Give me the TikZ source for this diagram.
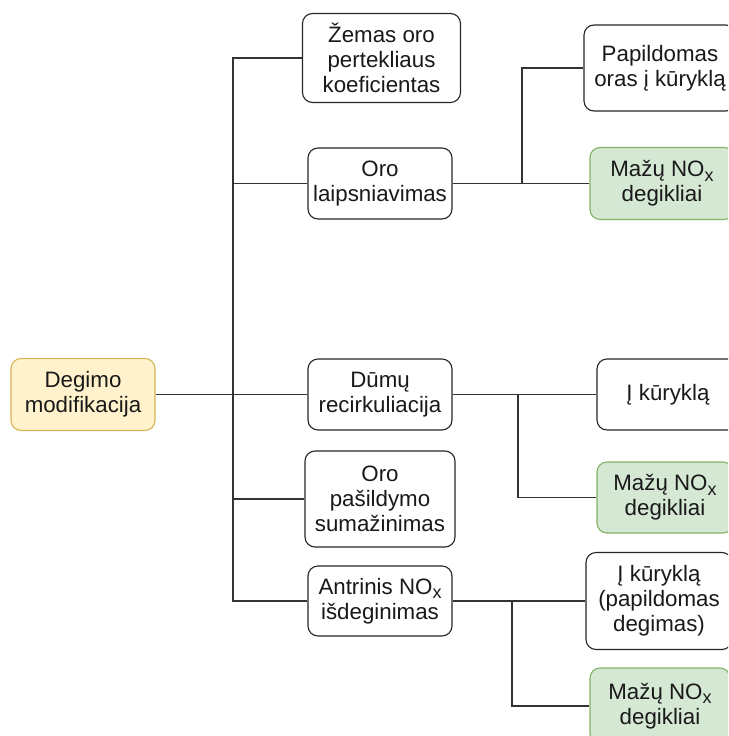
\documentclass[tikz,border=0pt]{standalone}
\usepackage{fontspec}
\setmainfont{Liberation Sans}
\definecolor{yfill}{HTML}{FFF2CC}
\definecolor{ydraw}{HTML}{D6B656}
\definecolor{gfill}{HTML}{D5E8D4}
\definecolor{gdraw}{HTML}{82B366}
\newcommand{\nox}{NO\raisebox{-0.35ex}{\fontsize{18}{18}\selectfont x}}
\begin{document}
\begin{tikzpicture}[x=1pt,y=-1pt,
  box/.style={draw=black!85, line width=1.1pt, rounded corners=10pt, fill=white,
    align=center, inner sep=0pt, text=black!90,
    font=\fontsize{22.3}{24.8}\selectfont},
  ybox/.style={box, draw=ydraw, fill=yfill},
  gbox/.style={box, draw=gdraw, fill=gfill},
  link/.style={draw=black!80, line width=1.2pt}]
\useasboundingbox (0,0) rectangle (728,736);
\fill[white] (0,0) rectangle (728,736);
\clip (0,0) rectangle (728,736);

\node[ybox, minimum width=144, minimum height=72] (root) at (83,394.5) {Degimo\\modifikacija};

\node[box, minimum width=158, minimum height=89] (zem) at (381.5,58) {Žemas oro\\pertekliaus\\koeficientas};
\node[box, minimum width=144, minimum height=71] (oro) at (380,183.5) {Oro\\laipsniavimas};
\node[box, minimum width=144, minimum height=71] (dum) at (380,394.5) {Dūmų\\recirkuliacija};
\node[box, minimum width=150, minimum height=96] (pas) at (380,499) {Oro\\pašildymo\\sumažinimas};
\node[box, minimum width=144, minimum height=70] (ant) at (380,601) {Antrinis \nox\\išdeginimas};

\node[box, minimum width=152, minimum height=86] (pap) at (660,68) {Papildomas\\oras į kūryklą};
\node[gbox, minimum width=144, minimum height=72] (gr1) at (662,183.5) {Mažų \nox\\degikliai};
\node[box, minimum width=142, minimum height=71] (ik) at (668,394.5) {Į kūryklą};
\node[gbox, minimum width=136, minimum height=71] (gr2) at (665,497.5) {Mažų \nox\\degikliai};
\node[box, minimum width=146, minimum height=97] (ikp) at (659,601) {Į kūryklą\\(papildomas\\degimas)};
\node[gbox, minimum width=140, minimum height=76] (gr3) at (660,706) {Mažų \nox\\degikliai};

\coordinate (tt) at (233,58);
\coordinate (tb) at (233,601);
\coordinate (j1) at (522,183.5);
\coordinate (j2) at (518,394.5);
\coordinate (j3) at (512,601);

\draw[link] (zem.west) -- (tt) -- (tb) -- (ant.west);
\draw[link] (root.east) -- (dum.west);
\draw[link] (tt|-oro.west) -- (oro.west);
\draw[link] (tt|-pas.west) -- (pas.west);

\draw[link] (oro.east) -- (gr1.west);
\draw[link] (j1) |- (pap.west);
\draw[link] (dum.east) -- (ik.west);
\draw[link] (j2) |- (gr2.west);
\draw[link] (ant.east) -- (ikp.west);
\draw[link] (j3) |- (gr3.west);
\end{tikzpicture}
\end{document}
